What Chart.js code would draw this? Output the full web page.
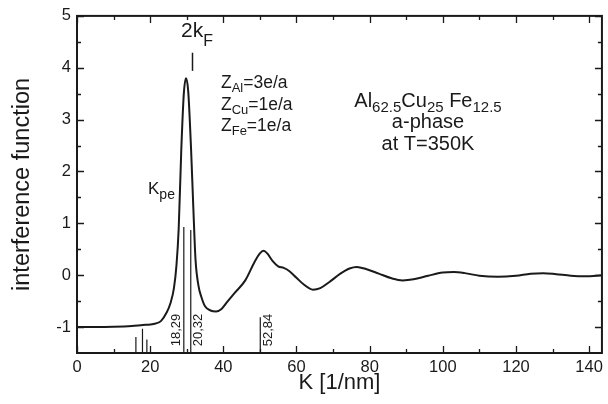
<!DOCTYPE html>
<html>
<head>
<meta charset="utf-8">
<script src="https://cdn.jsdelivr.net/npm/chart.js@4.4.0/dist/chart.umd.min.js"></script>
<style>
  html, body { margin: 0; padding: 0; background: #fff; }
  #wrap { width: 608px; height: 404px; }
</style>
</head>
<body>
<div id="wrap"><canvas id="chart"></canvas></div>
<script>
// interference function vs K
const kValues = [0, 5, 10, 15, 18, 20, 21.5, 23, 24.5, 25.5, 26.5, 27.2, 27.8, 28.5, 29.2, 29.8, 30.4, 31.2, 31.8, 32.4, 33.2, 34, 35, 36.5, 38, 39.5, 41, 43, 46, 48.5, 50, 51, 52, 53.5, 55, 56.5, 58, 60, 62, 64.5, 66.5, 69, 72, 74.5, 76.5, 79, 82.5, 86, 89, 92, 96, 100, 103, 106, 110, 115, 120, 124, 127.5, 131, 135, 139, 143.5];
const interference = [-1.0, -1.0, -0.995, -0.98, -0.96, -0.95, -0.93, -0.88, -0.72, -0.55, -0.25, 0.2, 0.9, 2.4, 3.5, 3.8, 3.55, 2.4, 1.3, 0.3, -0.2, -0.42, -0.6, -0.68, -0.7, -0.65, -0.52, -0.35, -0.1, 0.25, 0.42, 0.47, 0.42, 0.27, 0.17, 0.14, 0.08, -0.05, -0.18, -0.28, -0.25, -0.13, 0.03, 0.13, 0.16, 0.12, 0.03, -0.06, -0.1, -0.08, -0.01, 0.05, 0.06, 0.04, -0.01, -0.03, -0.01, 0.03, 0.04, 0.02, -0.01, -0.02, 0.0];

// reflection sticks drawn up from the bottom axis
const stickK = [16.1, 17.9, 19.1, 29.2, 31.1, 50.1];
const stickTop = [-1.19, -1.03, -1.24, 0.93, 0.87, -0.81];
const stickLabels = ['', '', '', '18,29', '20,32', '52,84'];

const xTickLabels = [0, 20, 40, 60, 80, 100, 120, 140];
const yTickLabels = [-1, 0, 1, 2, 3, 4, 5];
const xMin = 0, xMax = 143.5, yMin = -1.5, yMax = 5;

const FONT = '"Liberation Sans", Arial, sans-serif';
const INK = '#1a1a1a';

const curvePoints = kValues.map((k, i) => ({ x: k, y: interference[i] }));
const stickPoints = [];
stickK.forEach((k, i) => {
  stickPoints.push({ x: k, y: yMin }, { x: k, y: stickTop[i] }, { x: k, y: null });
});

// draw text runs with subscripts
function drawRich(ctx, x, y, parts, size, subSize, drop, align) {
  let total = 0;
  parts.forEach(p => {
    ctx.font = `${p[1] ? subSize : size}px ${FONT}`;
    total += ctx.measureText(p[0]).width;
  });
  let cx = align === 'center' ? x - total / 2 : x;
  ctx.textAlign = 'left';
  ctx.textBaseline = 'alphabetic';
  parts.forEach(p => {
    ctx.font = `${p[1] ? subSize : size}px ${FONT}`;
    ctx.fillText(p[0], cx, p[1] ? y + drop : y);
    cx += ctx.measureText(p[0]).width;
  });
}

const frameAndTicks = {
  id: 'frameAndTicks',
  afterDatasetsDraw(chart) {
    const { ctx, chartArea: a, scales: { x, y } } = chart;
    ctx.save();
    ctx.strokeStyle = INK;
    ctx.lineWidth = 1.3;
    ctx.beginPath();
    for (let v = 0; v <= xMax; v += 10) {
      const px = Math.round(x.getPixelForValue(v)) + 0.5;
      const len = v % 20 === 0 ? 7 : 4;
      ctx.moveTo(px, a.bottom); ctx.lineTo(px, a.bottom - len);
      ctx.moveTo(px, a.top); ctx.lineTo(px, a.top + len);
    }
    for (let v = -1; v <= yMax; v += 0.5) {
      const py = Math.round(y.getPixelForValue(v)) + 0.5;
      const len = Number.isInteger(v) ? 7 : 4;
      ctx.moveTo(a.left, py); ctx.lineTo(a.left + len, py);
      ctx.moveTo(a.right, py); ctx.lineTo(a.right - len, py);
    }
    ctx.stroke();
    ctx.lineWidth = 2;
    ctx.strokeRect(a.left, a.top, a.right - a.left, a.bottom - a.top);

    // stick labels, rotated
    ctx.fillStyle = INK;
    ctx.font = `13px ${FONT}`;
    ctx.textAlign = 'center';
    ctx.textBaseline = 'middle';
    stickLabels.forEach((lab, i) => {
      if (!lab) return;
      const px = x.getPixelForValue(stickK[i]) + (i === 3 ? -7 : 8);
      const py = a.bottom - 23;
      ctx.save();
      ctx.translate(px, py);
      ctx.rotate(-Math.PI / 2);
      ctx.fillText(lab, 0, 0);
      ctx.restore();
    });

    // annotations
    drawRich(ctx, 181, 37, [['2k', 0], ['F', 1]], 21, 16, 9, 'left');
    ctx.lineWidth = 1.5;
    ctx.beginPath();
    const mx = Math.round(x.getPixelForValue(31.4)) + 0.5;
    ctx.moveTo(mx, y.getPixelForValue(4.29));
    ctx.lineTo(mx, y.getPixelForValue(3.94));
    ctx.stroke();

    drawRich(ctx, 148, 194, [['K', 0], ['pe', 1]], 17, 14, 5, 'left');

    drawRich(ctx, 221, 88, [['Z', 0], ['Al', 1], ['=3e/a', 0]], 17.5, 13, 4, 'left');
    drawRich(ctx, 221, 110, [['Z', 0], ['Cu', 1], ['=1e/a', 0]], 17.5, 13, 4, 'left');
    drawRich(ctx, 221, 131, [['Z', 0], ['Fe', 1], ['=1e/a', 0]], 17.5, 13, 4, 'left');

    drawRich(ctx, 428, 107, [['Al', 0], ['62.5', 1], ['Cu', 0], ['25', 1], [' Fe', 0], ['12.5', 1]], 20, 15, 5, 'center');
    drawRich(ctx, 428, 128, [['a-phase', 0]], 20, 15, 5, 'center');
    drawRich(ctx, 428, 150, [['at T=350K', 0]], 20, 15, 5, 'center');
    ctx.restore();
  }
};

new Chart(document.getElementById('chart'), {
  type: 'scatter',
  data: {
    datasets: [
      {
        data: curvePoints,
        showLine: true,
        borderColor: INK,
        borderWidth: 2,
        pointRadius: 0,
        cubicInterpolationMode: 'monotone',
        order: 1
      },
      {
        data: stickPoints,
        showLine: true,
        spanGaps: false,
        borderColor: INK,
        borderWidth: 1.2,
        pointRadius: 0,
        order: 2
      }
    ]
  },
  options: {
    responsive: true,
    maintainAspectRatio: false,
    animation: false,
    layout: { padding: { top: 10, right: 4, left: 0, bottom: 0 } },
    plugins: { legend: { display: false }, tooltip: { enabled: false } },
    scales: {
      x: {
        type: 'linear',
        min: xMin,
        max: xMax,
        grid: { display: false, drawTicks: false },
        border: { display: false },
        afterBuildTicks: s => { s.ticks = xTickLabels.map(v => ({ value: v })); },
        afterFit: s => { s.height = 51; },
        ticks: { color: INK, font: { family: FONT, size: 16.5 }, padding: 5, maxRotation: 0, autoSkip: false },
        title: { display: true, text: 'K [1/nm]', color: INK, font: { family: FONT, size: 22 }, padding: { top: 0, bottom: 8 } }
      },
      y: {
        type: 'linear',
        min: yMin,
        max: yMax,
        grid: { display: false, drawTicks: false },
        border: { display: false },
        afterBuildTicks: s => { s.ticks = yTickLabels.map(v => ({ value: v })); },
        afterFit: s => { s.width = 77; },
        ticks: { color: INK, font: { family: FONT, size: 16.5 }, padding: 6, autoSkip: false },
        title: { display: true, text: 'interference function', color: INK, font: { family: FONT, size: 23.5 }, padding: { top: 8, bottom: 0 } }
      }
    }
  },
  plugins: [frameAndTicks]
});
</script>
</body>
</html>
